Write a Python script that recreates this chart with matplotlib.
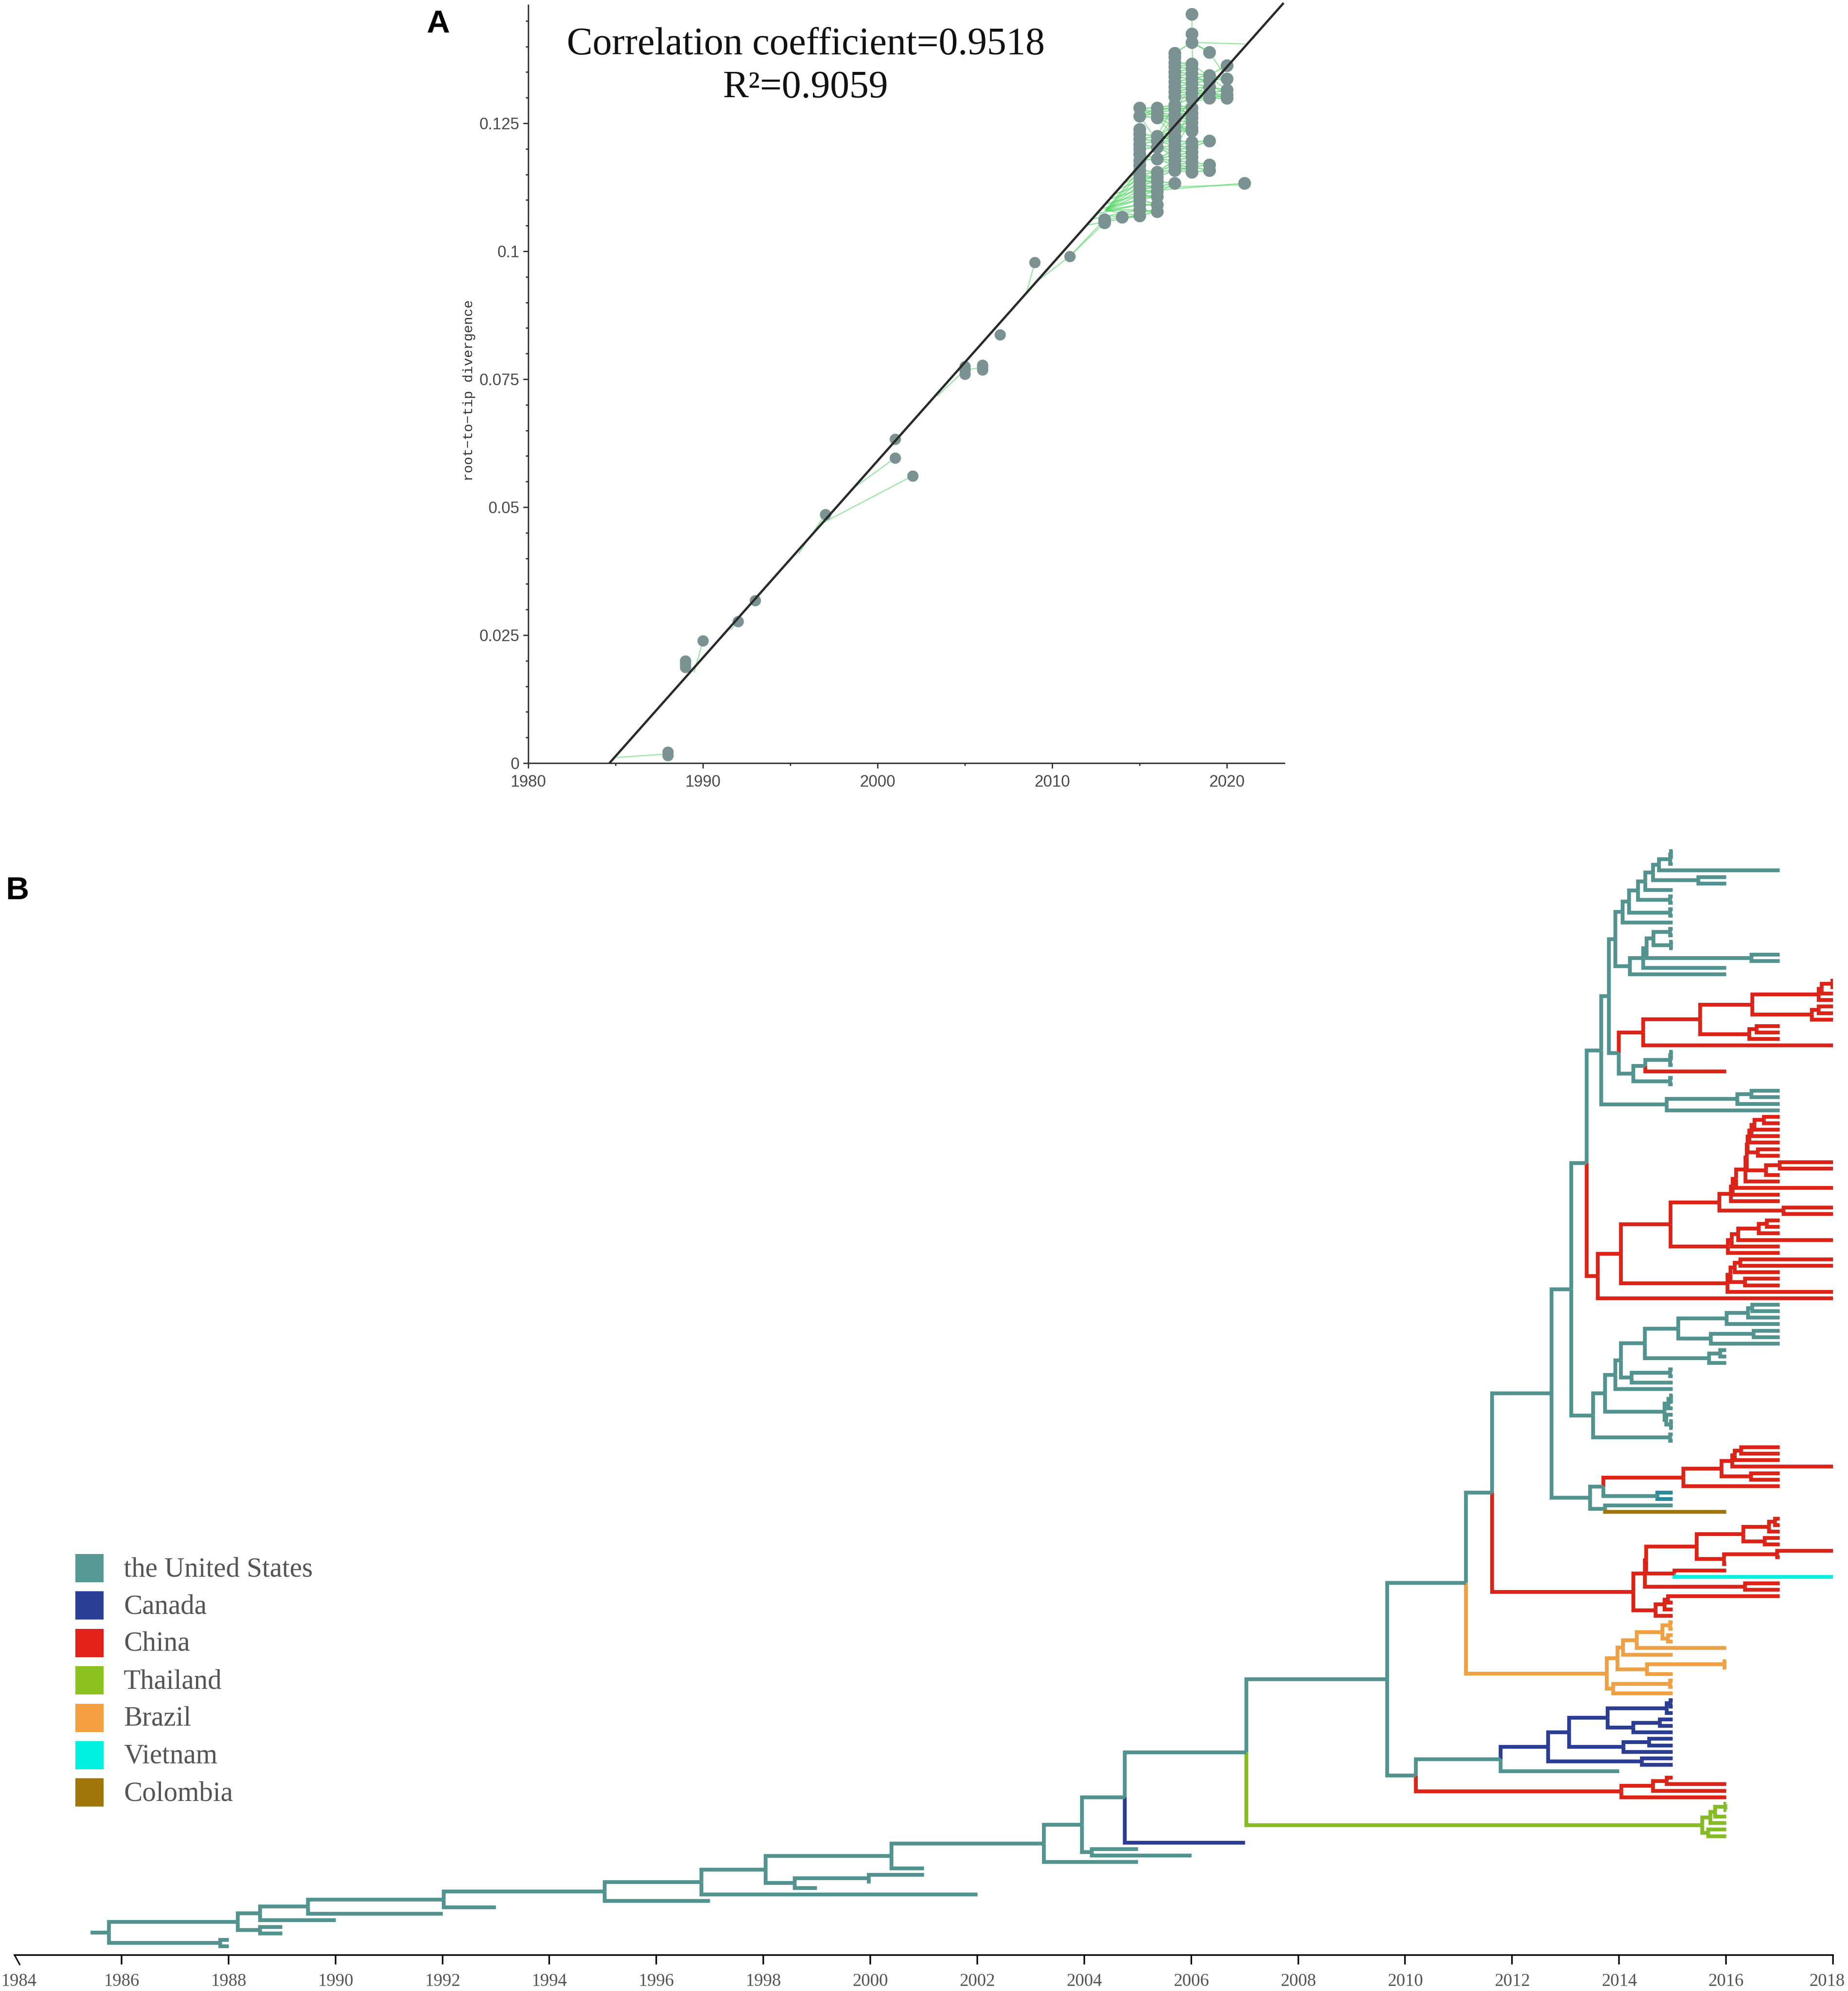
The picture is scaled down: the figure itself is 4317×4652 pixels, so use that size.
import matplotlib
matplotlib.use("Agg")
import matplotlib.pyplot as plt
from matplotlib.transforms import ScaledTranslation
from matplotlib.patches import Rectangle

W, H = 4317, 4652
DPI = 100
PT = 72 / DPI

# ---------- Panel A data ----------
early_years = [1988, 1988, 1989, 1989, 1989, 1990, 1992, 1993, 1997, 2001, 2001, 2002,
               2005, 2005, 2005, 2006, 2006, 2006, 2007, 2009, 2011]
early_vals = [0.0015, 0.0022, 0.0200, 0.0194, 0.0187, 0.0239, 0.0277, 0.0318, 0.0486, 0.0633, 0.0596, 0.0561,
              0.0775, 0.0768, 0.0760, 0.0778, 0.0773, 0.0768, 0.0837, 0.0978, 0.0990]
col_2013 = [0.1062, 0.1056]
col_2014 = [0.1067]
col_2015 = [0.1280, 0.1264, 0.1238, 0.1229, 0.1219, 0.1209, 0.1200, 0.1190, 0.1177, 0.1168, 0.1158,
            0.1149, 0.1139, 0.1129, 0.1120, 0.1110, 0.1101, 0.1091, 0.1081, 0.1069]
col_2016 = [0.1280, 0.1270, 0.1261, 0.1225, 0.1216, 0.1203, 0.1181, 0.1155, 0.1145, 0.1136, 0.1126,
            0.1117, 0.1107, 0.1091, 0.1078]
col_2017 = [0.1387, 0.1379, 0.1369, 0.1360, 0.1350, 0.1341, 0.1331, 0.1321, 0.1312, 0.1302, 0.1286,
            0.1277, 0.1267, 0.1257, 0.1245, 0.1235, 0.1225, 0.1216, 0.1206, 0.1197, 0.1187, 0.1177,
            0.1168, 0.1158, 0.1133]
col_2018 = [0.1463, 0.1425, 0.1408, 0.1366, 0.1357, 0.1347, 0.1337, 0.1328, 0.1318, 0.1309, 0.1299,
            0.1280, 0.1270, 0.1261, 0.1251, 0.1241, 0.1235, 0.1213, 0.1203, 0.1193, 0.1184, 0.1174,
            0.1165, 0.1155]
col_2019 = [0.1389, 0.1344, 0.1334, 0.1321, 0.1309, 0.1299, 0.1216, 0.1169, 0.1158]
col_2020 = [0.1363, 0.1337, 0.1315, 0.1305, 0.1299]
col_2021 = [0.1133]
columns = {2013: col_2013, 2014: col_2014, 2015: col_2015, 2016: col_2016, 2017: col_2017,
           2018: col_2018, 2019: col_2019, 2020: col_2020, 2021: col_2021}

fit_years = [1984.65, 2023.25]
fit_vals = [0.0, 0.1485]

# green tip-to-ancestor links (x0, y0, x1, y1)
links = [(1985.1, 0.0011, 1988, 0.0018), (1989.5, 0.0178, 1990, 0.0239), (1989.4, 0.0180, 1989, 0.0192),
         (1991.6, 0.0260, 1992, 0.0277), (1995.5, 0.0410, 1997, 0.0486), (1996.8, 0.0468, 2002, 0.0561),
         (1998.65, 0.0538, 2001, 0.0596), (2003.45, 0.0718, 2005, 0.0768), (2005, 0.0768, 2006, 0.0773),
         (2008.55, 0.0922, 2009, 0.0978), (2009.2, 0.0943, 2011, 0.0990), (2011, 0.0990, 2013, 0.1062),
         (2011, 0.0990, 2013, 0.1056), (2012.7, 0.1070, 2014, 0.1067), (2013, 0.1062, 2015, 0.1069),
         (2014, 0.1067, 2015, 0.1069), (2016.35, 0.1120, 2021, 0.1133), (2016.35, 0.1125, 2021, 0.1130),
         (2016.35, 0.1120, 2017, 0.1133), (2018, 0.1408, 2021, 0.1405), (2018, 0.1463, 2018, 0.1425),
         (2018, 0.1408, 2018.05, 0.1366), (2018, 0.1408, 2019, 0.1389), (2016, 0.1261, 2017, 0.1225),
         (2016, 0.1225, 2017, 0.1286), (2016, 0.1216, 2017, 0.1267), (2016, 0.1203, 2017, 0.1245),
         (2015, 0.1264, 2016, 0.1216), (2017, 0.1302, 2018, 0.1251), (2017, 0.1277, 2018, 0.1321),
         (2019, 0.1389, 2020, 0.1337), (2018, 0.1366, 2020, 0.1315), (2018, 0.1347, 2020, 0.1305),
         (2017.9, 0.1290, 2019, 0.1334), (2017.9, 0.1290, 2019, 0.1309), (2017.9, 0.1290, 2019, 0.1299),
         (2017, 0.1241, 2018, 0.1309), (2017, 0.1216, 2018, 0.1280), (2017, 0.1197, 2018, 0.1261)]

x_major = [1980, 1990, 2000, 2010, 2020]
x_minor = [1985, 1995, 2005, 2015]
y_major = [0, 0.025, 0.05, 0.075, 0.1, 0.125]
y_major_labels = ["0", "0.025", "0.05", "0.075", "0.1", "0.125"]
y_minor = [0.005 * i for i in range(1, 30) if i % 5 != 0]

# ---------- Panel B data ----------
US, CA, CN, TH, BR, VN, CO, DT = ("#52938F", "#2A3D92", "#DC2318", "#85BB27", "#EFA043",
                                  "#00F0E2", "#A0750A", "#2A8A9C")
legend_names = ["the United States", "Canada", "China", "Thailand", "Brazil", "Vietnam", "Colombia"]
legend_colors = ["#559A94", "#2A3F98", "#E3201A", "#8CC21F", "#F5A040", "#00F0E2", "#A0750A"]
time_ticks = list(range(1984, 2019, 2))


def n(time, color, *kids):
    """Internal node: time, country colour, then children. A bare year is a tip of the same colour."""
    return {"t": time, "c": color, "k": kids}


clade_a1 = n(2014.06, US, n(2014.18, US, n(2014.35, US, n(2014.49, US, n(2014.63, US,
             n(2014.74, US, n(2014.95, US, n(2014.97, US, 2015, 2015), 2015), 2017),
             n(2015.48, US, 2016, 2016)), 2015), n(2014.95, US, 2015, 2015)),
             n(2014.95, US, 2015, 2015)), 2015)
clade_a2 = n(2014.20, US, n(2014.45, US, n(2014.51, US,
             n(2014.64, US, n(2014.95, US, 2015, 2015), n(2014.97, US, 2015, 2015)),
             n(2016.47, US, 2017, 2017)), 2016), 2016)
clade_b1 = n(2014.45, CN, n(2015.51, CN, n(2016.49, CN,
             n(2017.73, CN, n(2017.78, CN, n(2017.98, CN, 2018, 2018), 2018), 2018),
             n(2017.60, CN, n(2017.73, CN, 2018, 2018), 2018)),
             n(2016.43, CN, n(2016.57, CN, 2017, 2017), 2017)), 2018)
clade_b2 = n(2014.26, US, n(2014.49, US, n(2014.95, US, n(2014.97, US, 2015, 2015), 2015), (2016, CN)),
             n(2014.95, US, 2015, 2015))
clade_c = n(2013.81, US, n(2013.93, US, clade_a1, clade_a2), n(2013.99, US, clade_b1, clade_b2))
clade_d = n(2014.89, US, n(2016.21, US, n(2016.47, US, 2017, 2017), 2017), 2017)
clade_460 = n(2013.66, US, clade_c, clade_d)

clade_e1 = n(2016.36, CN, n(2016.38, CN,
             n(2016.40, CN, n(2016.43, CN, n(2016.47, CN, n(2016.53, CN, n(2016.70, CN, 2017, 2017), 2017), 2017), 2017),
               n(2016.59, CN, 2017, 2017)),
             n(2016.74, CN, n(2017.0, CN, 2018, 2018), 2017)), 2017)
clade_990 = n(2015.87, CN, n(2016.09, CN, n(2016.12, CN, n(2016.18, CN, clade_e1, 2018), 2017), 2017),
              n(2017.07, CN, 2018, 2018))
clade_1030 = n(2016.03, CN, n(2016.10, CN, n(2016.22, CN,
               n(2016.61, CN, n(2016.76, CN, 2017, 2017), 2017), 2018), 2017), 2017)
clade_1028 = n(2016.02, CN, n(2016.08, CN, n(2016.16, CN, n(2016.26, CN, 2018, 2018), 2017),
               n(2016.35, CN, 2017, 2017)), 2018)
clade_447 = n(2013.60, CN, n(2014.03, CN, n(2014.96, CN, clade_990, clade_1030), clade_1028), 2018)
clade_395 = n(2013.39, US, clade_460, clade_447)

clade_cluster = n(2014.85, US, n(2014.92, US, n(2014.97, US, 2015, 2015), 2015),
                  n(2014.88, US, 2015, n(2014.97, US, 2015, 2015)))
clade_425 = n(2013.51, US, n(2013.73, US, n(2013.93, US, n(2014.03, US, n(2014.48, US,
              n(2015.10, US, n(2016.01, US, n(2016.41, US, n(2016.49, US, 2017, 2017), 2017), 2017),
                n(2015.71, US, n(2016.51, US, 2017, 2017), 2017)),
              n(2015.68, US, n(2015.89, US, 2016, 2016), 2016)),
              n(2014.23, US, n(2014.95, US, 2015, 2015), 2015)), 2015), clade_cluster),
              n(2014.95, US, 2015, 2015))
clade_327 = n(2013.10, US, clade_395, clade_425)
clade_410 = n(2013.45, US, n(2013.70, US,
              n(2015.2, CN, n(2015.91, CN, n(2016.11, CN, n(2016.16, CN, n(2016.28, CN, 2017, 2017), 2017), 2018),
                n(2016.46, CN, 2017, 2017)), 2017),
              n(2014.71, US, (2015, DT), (2015, DT))),
              n(2013.73, US, 2015, (2016, CO)))
clade_238 = n(2012.73, US, clade_327, clade_410)
clade_605 = n(2014.26, CN, n(2014.48, CN, n(2014.50, CN,
              n(2015.45, CN, n(2016.32, CN, n(2016.80, CN, n(2016.91, CN, 2017, 2017), 2017), n(2016.72, CN, 2017, 2017)),
                n(2015.96, CN, n(2016.95, CN, 2018, 2017), 2016)),
              n(2015.03, CN, 2016, (2018, VN))), n(2016.35, CN, 2017, 2017)),
              n(2014.68, CN, n(2014.85, CN, n(2014.91, CN, 2017, 2015), 2015), 2015))
clade_brazil = n(2013.77, BR, n(2013.97, BR, n(2014.07, BR, n(2014.33, BR,
                 n(2014.81, BR, n(2014.95, BR, 2015, 2015), n(2014.91, BR, 2015, 2015)), 2016), 2015),
                 n(2014.52, BR, n(2015.97, BR, 2016, 2016), 2015)),
                 n(2013.89, BR, n(2014.95, BR, 2015, 2015), 2015))
clade_canada = n(2011.78, US, n(2012.67, CA, n(2013.06, CA, n(2013.78, CA,
                 n(2014.89, CA, n(2014.96, CA, 2015, 2015), 2015),
                 n(2014.26, CA, n(2014.76, CA, 2015, 2015), 2015)),
                 n(2014.08, CA, n(2014.56, CA, 2015, 2015), 2015)),
                 n(2014.42, CA, 2015, 2015)), 2014)
clade_150 = n(2010.20, US, clade_canada, n(2014.04, CN, n(2014.63, CN, n(2014.89, CN, 2015, 2016), 2016), 2016))
clade_55 = n(2009.66, US, n(2011.13, US, n(2011.62, US, clade_238, clade_605), clade_brazil), clade_150)
clade_thai = n(2015.55, TH, n(2015.70, TH, n(2015.79, TH, n(2015.98, TH, 2016, 2016), 2016), 2016),
               n(2015.66, TH, 2016, 2016))
clade_980 = n(2007.03, US, clade_55, clade_thai)
tree_root = n(1985.76, US,
              n(1988.17, US,
                n(1988.59, US,
                  n(1989.48, US,
                    n(1992.02, US,
                      n(1995.03, US,
                        n(1996.84, US,
                          n(1998.04, US,
                            n(2000.39, US,
                              n(2003.24, US,
                                n(2003.95, US,
                                  n(2004.75, US, clade_980, (2007, CA)),
                                  n(2004.14, US, 2005, 2006)),
                                2005),
                              2001),
                            n(1998.58, US, n(1999.97, US, 2001, 2000), 1999)),
                          2002),
                        1997),
                      1993),
                    1992),
                  1990),
                n(1988.59, US, 1989, 1989)),
              n(1987.84, US, 1988, 1988))
root_start = 1985.42

# ---------- Layout helpers ----------
plt.rcParams["font.family"] = ["Liberation Sans", "DejaVu Sans"]
fig = plt.figure(figsize=(W / DPI, H / DPI), dpi=DPI, facecolor="white")


def box(l, t, r, b):
    return [l / W, 1 - b / H, (r - l) / W, (b - t) / H]


def ftext(x, y, s, **kw):
    return fig.text(x / W, 1 - y / H, s, **kw)


# ---------- Panel A ----------
axa = fig.add_axes(box(1234, 12, 3000, 1783))
axa.set_xlim(1980, 1980 + (3000 - 1234) / 40.8)
axa.set_ylim(0, (1783 - 12) / 11960)
slope = (fit_vals[1] - fit_vals[0]) / (fit_years[1] - fit_years[0])
GREEN = "#4FD662"
for x0, y0, x1, y1 in links:
    axa.plot([x0, x1], [y0, y1], color=GREEN, lw=1.8, alpha=0.6, zorder=1)
cols = sorted(columns)
for a, b in zip(cols[:-1], cols[1:]):
    if a < 2015:
        continue
    for v in columns[b]:
        near = sorted(columns[a], key=lambda u: abs(u - v))[:2]
        for u in near:
            if abs(u - v) < 0.0022:
                axa.plot([a, b], [u, v], color=GREEN, lw=2.2, alpha=0.7, zorder=1)
for v in col_2015:
    anc = v - 0.0018
    yr = fit_years[0] + anc / slope
    if yr < 2015 and v < 0.119:
        axa.plot([yr, 2015], [anc, v], color=GREEN, lw=2.0, alpha=0.65, zorder=1)
    if v < 0.1165:
        axa.plot([2013.05, 2015], [0.1080, v], color=GREEN, lw=2.0, alpha=0.65, zorder=1)
for v in col_2016[-7:]:
    axa.plot([2015, 2016], [v, v], color=GREEN, lw=2.0, alpha=0.65, zorder=1)

MARK = "#7A9292"
axa.scatter(early_years, early_vals, s=360, color=MARK, lw=0, zorder=2)
for yr, vals in columns.items():
    axa.scatter([yr] * len(vals), vals, s=460, color=MARK, lw=0, zorder=2)
axa.plot(fit_years, fit_vals, color="#2A2A2A", lw=3.8, zorder=3, solid_capstyle="butt", clip_on=False)

for s in ("top", "right"):
    axa.spines[s].set_visible(False)
for s in ("left", "bottom"):
    axa.spines[s].set_color("#333333")
    axa.spines[s].set_linewidth(2.4)
axa.set_xticks(x_major)
axa.set_xticks(x_minor, minor=True)
axa.set_yticks(y_major)
axa.set_yticklabels(y_major_labels)
axa.set_yticks(y_minor, minor=True)
axa.tick_params(axis="both", which="major", length=12 * PT, width=2.2, color="#333333",
                labelsize=27, labelcolor="#4A4A4A")
axa.tick_params(axis="both", which="minor", length=6 * PT, width=2.2, color="#333333")
axa.tick_params(axis="x", which="major", pad=11)
axa.tick_params(axis="y", which="major", pad=6)

ftext(1096, 912, "root\u2212to\u2212tip divergence", rotation=90, ha="center", va="center",
      family="Liberation Mono", fontsize=23, color="#333333")
ftext(1882, 127, "Correlation coefficient=0.9518", ha="center", va="baseline",
      family="Liberation Serif", fontsize=65, color="#111111")
ftext(1882, 228, "R\u00b2=0.9059", ha="center", va="baseline",
      family="Liberation Serif", fontsize=65, color="#111111")
ftext(1023, 76, "A", ha="center", va="baseline", fontsize=54, fontweight="bold", color="black")
ftext(41, 2101, "B", ha="center", va="baseline", fontsize=54, fontweight="bold", color="black")

# ---------- Panel B ----------
axb = fig.add_axes(box(34, 1900, 4282, 4568))
axb.patch.set_alpha(0)
axb.set_xlim(1984, 2018)
ROW0, ROWN = 1988, 4547


def count_tips(node):
    if not isinstance(node, dict):
        return 1
    return sum(count_tips(k) for k in node["k"])


n_tips = count_tips(tree_root)
sp = (ROWN - ROW0) / (n_tips - 1)
axb.set_ylim((4568 - ROW0) / sp, (1900 - ROW0) / sp)
LW = 8.8 * PT
segments = []
next_row = [0]


def layout(node):
    """Returns y of the node and stores an elbow per child."""
    if isinstance(node, dict):
        ys = [layout(k) for k in node["k"]]
        y = sum(ys) / len(ys)
        for k, ky in zip(node["k"], ys):
            if isinstance(k, dict):
                segments.append((node["t"], k["t"], ky, y, k["c"]))
            elif isinstance(k, tuple):
                segments.append((node["t"], k[0], ky, y, k[1]))
            else:
                segments.append((node["t"], k, ky, y, node["c"]))
        return y
    r = next_row[0]
    next_row[0] += 1
    return r


root_y = layout(tree_root)
for pt, ct, cy, py, col in segments:
    axb.plot([pt, pt, ct], [py, cy, cy], color=col, lw=LW, solid_joinstyle="miter",
             solid_capstyle="butt", zorder=2)
axb.plot([root_start, tree_root["t"]], [root_y, root_y], color=US, lw=LW, solid_capstyle="butt", zorder=2)

for s in ("top", "right", "left"):
    axb.spines[s].set_visible(False)
axb.spines["bottom"].set_color("black")
axb.spines["bottom"].set_linewidth(2.6)
axb.set_yticks([])
axb.set_xticks(time_ticks)
axb.set_xticklabels([str(t) for t in time_ticks])
axb.tick_params(axis="x", length=22 * PT, width=2.6, color="black", labelsize=30, labelcolor="#555555", pad=15)
for lab in axb.get_xticklabels():
    lab.set_fontfamily(["Liberation Serif", "DejaVu Serif"])
ticklabs = axb.get_xticklabels()
ticklabs[0].set_transform(ticklabs[0].get_transform() + ScaledTranslation(10 / DPI, 0, fig.dpi_scale_trans))
ticklabs[-1].set_transform(ticklabs[-1].get_transform() + ScaledTranslation(-14 / DPI, 0, fig.dpi_scale_trans))
axb.xaxis.get_major_ticks()[0].tick1line.set_visible(False)
fig.add_artist(plt.Line2D([34 / W, 46 / W], [1 - 4568 / H, 1 - 4590 / H], color="black", lw=2.4))

# legend
for i, (name, col) in enumerate(zip(legend_names, legend_colors)):
    top = 3631 + i * 87.4
    fig.add_artist(Rectangle((175.5 / W, 1 - (top + 66) / H), 66.5 / W, 66 / H, transform=fig.transFigure,
                             facecolor=col, edgecolor="none"))
    ftext(289, top + 52, name, ha="left", va="baseline", family="Liberation Serif", fontsize=46.5, color="#555555")

fig.savefig("out.png", dpi=DPI, facecolor="white")
